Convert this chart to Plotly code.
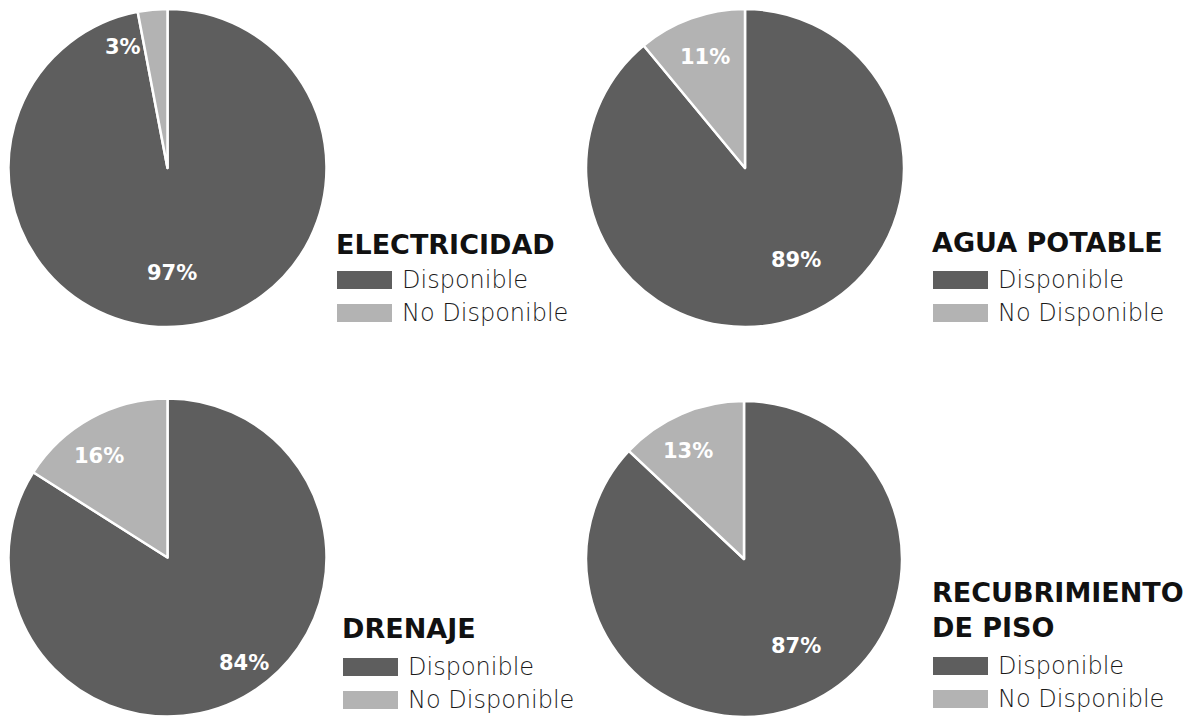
import math
import plotly.graph_objects as go

W, H = 1203, 717

# ---- data ----
categories = ["Disponible", "No Disponible"]
services = ["ELECTRICIDAD", "AGUA POTABLE", "DRENAJE", "RECUBRIMIENTO<br>DE PISO"]
disponible = [97, 89, 84, 87]
no_disponible = [3, 11, 16, 13]

# ---- style / layout (pixels) ----
colors = ["#5e5e5e", "#b3b3b3"]
pie_geom = [(167.5, 168, 159), (745, 168, 159), (167.5, 557.5, 159), (744, 559, 158)]  # cx, cy, r
legend_pos = [(337, 244, 280), (933, 243, 280), (343, 628, 667), (933, 609.5, 666)]  # x, title y, first row y
row_gap = 33
label_place = [
    [(2.7, 0.66), (-15, 0.81)],
    [(-9.5, 0.66), (0, 0.74)],
    [(-7, 0.82), (-5, 0.77)],
    [(-7.5, 0.64), (-4, 0.77)],
]


def px(x):
    return x / W


def py(y):
    return 1 - y / H


fig = go.Figure()
annotations = []
shapes = []

for i, name in enumerate(services):
    vals = [disponible[i], no_disponible[i]]
    cx, cy, r = pie_geom[i]
    y0 = max(0.0, py(cy + r))
    y1 = min(1.0, py(cy - r))
    fig.add_trace(go.Pie(
        labels=categories,
        values=vals,
        sort=False,
        direction="clockwise",
        rotation=0,
        marker=dict(colors=colors, line=dict(color="white", width=2.5)),
        textinfo="none",
        hoverinfo="label+percent",
        showlegend=False,
        domain=dict(x=[px(cx - r), px(cx + r)], y=[y0, y1]),
    ))

    # percentage labels placed from slice angles
    total = sum(vals)
    start = 0.0
    for j, v in enumerate(vals):
        span = 360.0 * v / total
        mid = start + span / 2
        nudge, frac = label_place[i][j]
        ang = math.radians(mid + nudge)
        lx = cx + frac * r * math.sin(ang)
        ly = cy - frac * r * math.cos(ang)
        annotations.append(dict(
            x=px(lx), y=py(ly), xref="paper", yref="paper",
            text=f"{v}%", showarrow=False, xanchor="center", yanchor="middle",
            font=dict(family="DejaVu Sans", size=21, color="white", weight="bold"),
        ))
        start += span

    # legend block
    lx0, ty, ry = legend_pos[i]
    annotations.append(dict(
        x=px(lx0 - 3), y=py(ty), xref="paper", yref="paper",
        text=f"<b>{name}</b>", showarrow=False, xanchor="left", yanchor="middle",
        align="left",
        font=dict(family="DejaVu Sans", size=27, color="#111111"),
    ))
    for j, cat in enumerate(categories):
        yy = ry + j * row_gap
        shapes.append(dict(
            type="rect", xref="paper", yref="paper",
            x0=px(lx0), x1=px(lx0 + 55), y0=py(yy + 9), y1=py(yy - 9),
            fillcolor=colors[j], line=dict(width=0),
        ))
        annotations.append(dict(
            x=px(lx0 + 63), y=py(yy), xref="paper", yref="paper",
            text=cat, showarrow=False, xanchor="left", yanchor="middle",
            font=dict(family="DejaVu Sans", size=24, color="#1a1a1a", weight=200),
        ))

fig.update_layout(
    width=W, height=H,
    margin=dict(l=0, r=0, t=0, b=0),
    paper_bgcolor="white", plot_bgcolor="white",
    annotations=annotations, shapes=shapes,
)

fig.write_html(
    "out.html",
    config={"displayModeBar": False},
    post_script="document.body.style.margin='0';document.body.style.overflow='hidden';",
)
